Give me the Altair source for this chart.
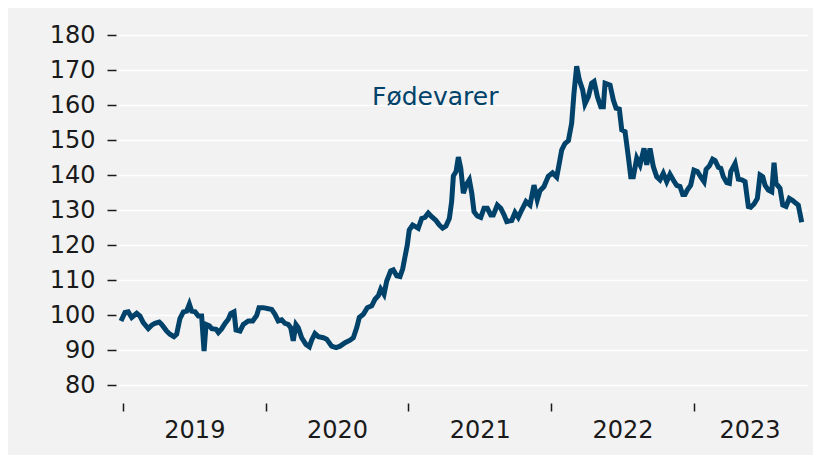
import altair as alt
import pandas as pd

# ---- data (decimal year, index value) ----
dates = [
    2018.986, 2019.014, 2019.037, 2019.061, 2019.096, 2019.119, 2019.142, 2019.177, 2019.201, 2019.224,
    2019.254, 2019.271, 2019.306, 2019.329, 2019.357, 2019.376, 2019.399, 2019.423, 2019.446, 2019.465,
    2019.481, 2019.505, 2019.528, 2019.551, 2019.568, 2019.582, 2019.605, 2019.622, 2019.652, 2019.668,
    2019.692, 2019.715, 2019.738, 2019.755, 2019.778, 2019.792, 2019.820, 2019.843, 2019.878, 2019.909,
    2019.937, 2019.953, 2019.983, 2020.018, 2020.042, 2020.065, 2020.088, 2020.112, 2020.135, 2020.158,
    2020.175, 2020.193, 2020.212, 2020.228, 2020.252, 2020.282, 2020.306, 2020.322, 2020.345, 2020.369,
    2020.404, 2020.427, 2020.462, 2020.493, 2020.521, 2020.556, 2020.591, 2020.614, 2020.638, 2020.656,
    2020.684, 2020.712, 2020.743, 2020.766, 2020.789, 2020.806, 2020.829, 2020.848, 2020.876, 2020.894,
    2020.918, 2020.941, 2020.960, 2020.976, 2020.992, 2021.006, 2021.030, 2021.053, 2021.069, 2021.093,
    2021.116, 2021.139, 2021.163, 2021.193, 2021.217, 2021.240, 2021.263, 2021.287, 2021.303, 2021.315,
    2021.334, 2021.350, 2021.367, 2021.385, 2021.404, 2021.427, 2021.444, 2021.460, 2021.483, 2021.507,
    2021.530, 2021.553, 2021.577, 2021.595, 2021.623, 2021.647, 2021.670, 2021.689, 2021.724, 2021.747,
    2021.770, 2021.794, 2021.824, 2021.852, 2021.880, 2021.903, 2021.922, 2021.950, 2021.980, 2022.010,
    2022.039, 2022.057, 2022.074, 2022.097, 2022.121, 2022.144, 2022.160, 2022.179, 2022.198, 2022.221,
    2022.237, 2022.261, 2022.284, 2022.301, 2022.324, 2022.348, 2022.366, 2022.378, 2022.413, 2022.436,
    2022.455, 2022.478, 2022.495, 2022.518, 2022.541, 2022.558, 2022.576, 2022.600, 2022.623, 2022.651,
    2022.670, 2022.693, 2022.716, 2022.740, 2022.763, 2022.786, 2022.810, 2022.833, 2022.856, 2022.880,
    2022.903, 2022.922, 2022.938, 2022.954, 2022.978, 2023.001, 2023.025, 2023.048, 2023.072, 2023.086,
    2023.109, 2023.132, 2023.149, 2023.172, 2023.189, 2023.207, 2023.231, 2023.249, 2023.259, 2023.289,
    2023.312, 2023.336, 2023.359, 2023.382, 2023.399, 2023.422, 2023.445, 2023.464, 2023.483, 2023.499,
    2023.522, 2023.546, 2023.562, 2023.576, 2023.604, 2023.623, 2023.646, 2023.669, 2023.693, 2023.716,
    2023.732, 2023.756,
]
values = [
    98.3, 100.7, 100.9, 99.3, 100.5, 99.7, 97.8, 96.1, 97.1, 97.6,
    98.0, 97.3, 95.4, 94.5, 93.8, 94.5, 99.0, 100.9, 101.1, 103.1,
    101.1, 100.9, 99.7, 99.7, 89.7, 97.3, 96.9, 96.1, 95.9, 95.0,
    96.1, 97.6, 98.8, 100.4, 100.9, 95.7, 95.4, 97.3, 98.3, 98.3,
    99.9, 102.1, 102.1, 101.8, 101.6, 100.2, 98.3, 98.6, 97.6, 97.3,
    96.4, 92.6, 97.3, 96.4, 93.5, 91.6, 90.9, 92.8, 94.7, 93.8,
    93.5, 93.1, 91.1, 90.7, 91.1, 92.1, 92.8, 93.5, 96.4, 99.3,
    100.2, 102.1, 102.6, 104.5, 105.5, 107.4, 105.9, 109.7, 112.6, 112.9,
    111.2, 111.0, 113.2, 116.6, 120.0, 124.3, 125.7, 125.2, 124.8, 127.6,
    127.9, 129.1, 128.1, 127.0, 125.7, 124.8, 125.4, 127.6, 132.4, 139.7,
    141.0, 145.1, 141.9, 134.8, 137.1, 138.6, 134.8, 129.5, 128.3, 127.9,
    130.5, 130.5, 128.6, 128.6, 131.4, 130.5, 128.6, 126.7, 127.0, 129.3,
    127.9, 130.0, 132.4, 131.4, 137.1, 132.9, 135.5, 136.7, 139.6, 140.6,
    139.4, 143.3, 147.1, 149.0, 149.8, 154.8, 163.3, 171.1, 167.1, 164.3,
    160.3, 162.4, 166.2, 166.7, 162.4, 159.5, 159.5, 166.2, 165.7, 161.4,
    159.1, 158.8, 152.9, 152.4, 145.2, 139.5, 139.5, 144.8, 142.9, 147.6,
    142.9, 147.6, 142.4, 139.5, 138.6, 140.5, 138.1, 140.2, 138.6, 137.0,
    136.7, 134.4, 134.4, 135.7, 137.1, 141.4, 141.0, 139.5, 138.1, 141.6,
    142.6, 144.5, 144.1, 142.2, 141.9, 139.5, 137.8, 137.6, 141.0, 143.3,
    138.8, 138.6, 138.1, 131.0, 130.8, 131.7, 133.3, 140.0, 139.5, 137.1,
    135.7, 135.2, 143.5, 137.6, 136.2, 131.4, 131.0, 133.3, 132.7, 131.9,
    131.4, 126.5,
]

x_tick_years = [2019, 2020, 2021, 2022, 2023]
x_label_positions = [2019.5, 2020.5, 2021.5, 2022.5, 2023.39]
y_ticks = [80, 90, 100, 110, 120, 130, 140, 150, 160, 170, 180]
x_domain = [2018.965, 2023.793]
y_domain = [80, 180]

series_label = ["Fødevarer"]
series_label_x = [2020.745]
series_label_y = [160]

# ---- styling ----
W, H = 689, 350
FONT = "DejaVu Sans"
LINE = "#00426a"
BG = "#f2f2f2"
TXT = "#1a1a1a"

df = pd.DataFrame({"t": dates, "v": values})
lab = pd.DataFrame({"x": series_label_x, "y": series_label_y, "txt": series_label})

xscale = alt.Scale(domain=x_domain, nice=False, zero=False)
yscale = alt.Scale(domain=y_domain, nice=False, zero=False)

y_axis = alt.Axis(
    values=y_ticks, grid=True, gridColor="white", gridWidth=1.5,
    domain=False, tickSize=9, tickWidth=1.5, tickColor=TXT, offset=2,
    labelPadding=12, labelFontSize=24, labelFont=FONT, labelColor=TXT,
    title=None,
)

line = alt.Chart(df).mark_line(color=LINE, strokeWidth=5).encode(
    x=alt.X(
        "t:Q",
        scale=xscale,
        axis=alt.Axis(
            orient="bottom", values=x_tick_years, labels=False, grid=False,
            domain=False, tickSize=8, tickWidth=1.5, tickColor=TXT, offset=18,
            title=None,
        ),
    ),
    y=alt.Y("v:Q", scale=yscale, axis=y_axis),
)

text = alt.Chart(lab).mark_text(
    align="left", baseline="alphabetic", font=FONT, fontSize=25, color=LINE
).encode(
    x=alt.X(
        "x:Q",
        scale=xscale,
        axis=alt.Axis(
            orient="bottom", values=x_label_positions,
            labelExpr="floor(datum.value)", ticks=False, tickSize=0,
            domain=False, grid=False, offset=18, labelPadding=27,
            labelBaseline="middle", labelFontSize=24, labelFont=FONT,
            labelColor=TXT, labelFlush=False, labelOverlap=False, title=None,
        ),
    ),
    y=alt.Y("y:Q", scale=yscale, axis=y_axis),
    text="txt:N",
)

chart = (
    alt.layer(line, text)
    .resolve_axis(x="independent", y="shared")
    .properties(
        width=W,
        height=H,
        background=BG,
        padding={"left": 110, "top": 27, "right": 6, "bottom": 70},
        autosize=alt.AutoSizeParams(type="none"),
    )
    .configure_view(strokeWidth=0)
)

chart.save("out.html", embed_options={"renderer": "svg", "actions": False})
